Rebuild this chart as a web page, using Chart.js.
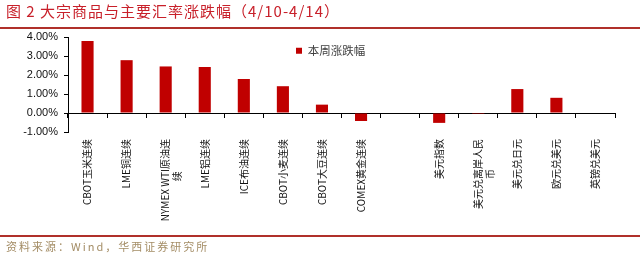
<!DOCTYPE html>
<html>
<head>
<meta charset="utf-8">
<script src="https://cdn.jsdelivr.net/npm/chart.js@4"></script>
<style>
  html, body { margin: 0; padding: 0; background: #fff; }
  #wrap { position: relative; width: 640px; height: 254px; overflow: hidden; }
  #cv { position: absolute; left: 0; top: 0; width: 640px; height: 254px; }
  #title { position: absolute; left: 6px; top: 0px; font: 15px "Noto Sans CJK SC", sans-serif; color: #C8202A; letter-spacing: 1px; white-space: nowrap; line-height: 22px; }
  #topline { position: absolute; left: 0; top: 27px; width: 640px; height: 2px; background: #B0302A; }
  #botline { position: absolute; left: 0; top: 235px; width: 640px; height: 2px; background: #B0302A; }
  #source { position: absolute; left: 6px; top: 238px; font: 11px "Noto Sans CJK SC", sans-serif; color: #A48D66; letter-spacing: 2px; white-space: nowrap; line-height: 16px; }
</style>
</head>
<body>
<div id="wrap">
  <canvas id="cv" width="640" height="254"></canvas>
  <div id="title">图 2 大宗商品与主要汇率涨跌幅（4/10-4/14）</div>
  <div id="topline"></div>
  <div id="botline"></div>
  <div id="source">资料来源：Wind，华西证券研究所</div>
</div>
<script>
const categories = [
  'CBOT玉米连续', 'LME铜连续', ['NYMEX WTI原油连', '续\u3000\u3000\u3000 '], 'LME铝连续', 'ICE布油连续',
  'CBOT小麦连续', 'CBOT大豆连续', 'COMEX黄金连续', '',
  '美元指数', ['美元兑离岸人民', '币\u3000\u3000\u3000'], '美元兑日元', '欧元兑美元', '英镑兑美元'
];
const seriesName = '本周涨跌幅';
const weeklyChange = [3.79, 2.78, 2.45, 2.42, 1.79, 1.41, 0.44, -0.42, null, -0.52, -0.05, 1.26, 0.80, 0.00];
const yTicks = { min: -1, max: 4, step: 1 };

const labelFont = { family: "'Liberation Sans Narrow', 'Noto Sans CJK SC', sans-serif", size: 10 };

// place the in-chart legend near the top centre of the plot area
const legendPlacer = {
  id: 'legendPlacer',
  afterLayout(chart) {
    const lg = chart.legend;
    if (!lg) return;
    const dx = 286 - lg.left;
    const dy = 35 - lg.top;
    lg.left += dx; lg.right += dx;
    lg.top += dy; lg.bottom += dy;
    if (lg.legendHitBoxes) lg.legendHitBoxes.forEach(h => { h.left += dx; h.top += dy; });
  }
};

new Chart(document.getElementById('cv'), {
  type: 'bar',
  data: {
    labels: categories,
    datasets: [{
      label: seriesName,
      data: weeklyChange,
      backgroundColor: '#C00000',
      borderWidth: 0,
      categoryPercentage: 1,
      barPercentage: 0.31
    }]
  },
  plugins: [legendPlacer],
  options: {
    responsive: false,
    animation: false,
    devicePixelRatio: 1,
    layout: { padding: { left: 0, right: 25, top: 37, bottom: 0 } },
    plugins: {
      title: { display: false },
      tooltip: { enabled: false },
      legend: {
        position: 'chartArea',
        align: 'start',
        labels: {
          boxWidth: 6, boxHeight: 6, padding: 10,
          color: '#404040',
          font: { family: "'Noto Sans CJK SC', sans-serif", size: 11.5 }
        }
      }
    },
    scales: {
      x: {
        type: 'category',
        position: 'bottom',
        offset: true,
        grid: { display: false, drawTicks: false, offset: true },
        border: { display: false },
        ticks: {
          autoSkip: false, maxRotation: 90, minRotation: 90,
          padding: 7, color: '#111', font: labelFont
        },
        afterFit(scale) { scale.height = 122; }
      },
      x2: {
        type: 'category',
        position: { y: 0 },
        offset: true,
        grid: { drawOnChartArea: false, drawTicks: true, tickLength: 4, color: '#000', offset: true },
        border: { display: true, color: '#000', width: 1 },
        ticks: { display: false }
      },
      y: {
        min: yTicks.min, max: yTicks.max,
        grid: { drawOnChartArea: false, drawTicks: true, tickLength: 4, color: '#000' },
        border: { display: true, color: '#000', width: 1 },
        ticks: {
          stepSize: yTicks.step, padding: 6, color: '#111',
          font: { family: "'Liberation Sans', Arial, sans-serif", size: 11 },
          callback: v => v.toFixed(2) + '%'
        },
        afterFit(scale) { scale.width = 68; }
      }
    }
  }
});
</script>
</body>
</html>
